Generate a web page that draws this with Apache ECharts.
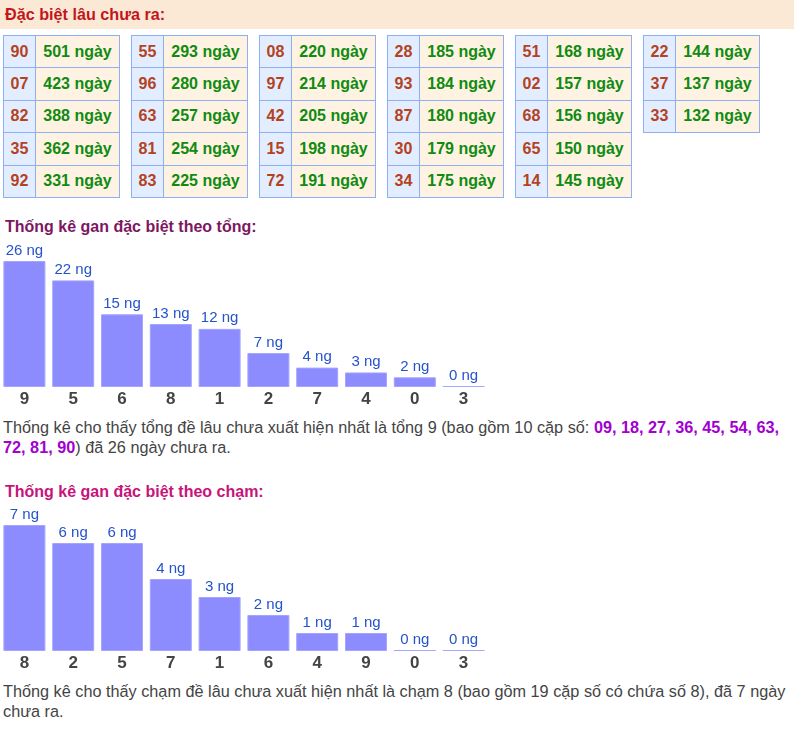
<!DOCTYPE html>
<html><head><meta charset="utf-8">
<script src="https://cdn.jsdelivr.net/npm/echarts@6/dist/echarts.min.js"></script>
<style>
body{margin:0;width:794px;height:729px;background:#fff;font-family:"Liberation Sans",Arial,sans-serif;position:relative;overflow:hidden}
.hdr{position:absolute;left:0;top:0;width:794px;height:29px;background:#fbe9d6;}
.hdr span{position:absolute;left:5px;top:5px;font-weight:bold;font-size:16.2px;color:#c3161c}
table.t{position:absolute;top:35px;border-collapse:collapse;font-weight:bold;font-size:16px}
table.t td{border:1px solid #8eb0f2;height:31.4px;padding:0;text-align:center}
td.n{width:31px;background:#e2eeff;color:#b3421d}
td.d{width:83px;background:#fef3e2;color:#108a10}
.ttl{position:absolute;left:5px;font-weight:bold;font-size:16px}
.chart{position:absolute;left:0;width:500px;height:175px}
.para{position:absolute;left:3px;font-size:16.25px;line-height:19.5px;color:#444;white-space:nowrap}
.para b{color:#a200d0}
</style></head>
<body>
<div class="hdr"><span id="hdrText"></span></div>
<div id="tables"></div>
<div class="ttl" id="title1" style="top:218px;color:#7c1862"></div>
<div class="chart" id="c1" style="top:235px"></div>
<div class="para" id="p1" style="top:418px"></div>
<div class="ttl" id="title2" style="top:483px;color:#c8137a"></div>
<div class="chart" id="c2" style="top:499px"></div>
<div class="para" id="p2" style="top:682px"></div>
<script>
const headerText = "Đặc biệt lâu chưa ra:";
const pairNums = ["90","07","82","35","92","55","96","63","81","83","08","97","42","15","72","28","93","87","30","34","51","02","68","65","14","22","37","33"];
const pairDays = [501,423,388,362,331,293,280,257,254,225,220,214,205,198,191,185,184,180,179,175,168,157,156,150,145,144,137,132];
const rowsPerTable = 5;

const title1 = "Thống kê gan đặc biệt theo tổng:";
const tongCats = ["9","5","6","8","1","2","7","4","0","3"];
const tongVals = [26,22,15,13,12,7,4,3,2,0];
const para1a = "Thống kê cho thấy tổng đề lâu chưa xuất hiện nhất là tổng 9 (bao gồm 10 cặp số: ";
const para1Nums1 = "09, 18, 27, 36, 45, 54, 63,";
const para1Nums2 = "72, 81, 90";
const para1b = ") đã 26 ngày chưa ra.";

const title2 = "Thống kê gan đặc biệt theo chạm:";
const chamCats = ["8","2","5","7","1","6","4","9","0","3"];
const chamVals = [7,6,6,4,3,2,1,1,0,0];
const para2a = "Thống kê cho thấy chạm đề lâu chưa xuất hiện nhất là chạm 8 (bao gồm 19 cặp số có chứa số 8), đã 7 ngày";
const para2b = "chưa ra.";

document.getElementById('hdrText').textContent = headerText;
document.getElementById('title1').textContent = title1;
document.getElementById('title2').textContent = title2;
document.getElementById('p1').innerHTML = para1a + '<b>' + para1Nums1 + '</b><br><b>' + para1Nums2 + '</b>' + para1b;
document.getElementById('p2').innerHTML = para2a + '<br>' + para2b;

let html = '';
const nTables = Math.ceil(pairNums.length / rowsPerTable);
for (let t = 0; t < nTables; t++) {
  html += '<table class="t" style="left:' + (3 + t * 128) + 'px">';
  for (let r = 0; r < rowsPerTable; r++) {
    const i = t * rowsPerTable + r;
    if (i >= pairNums.length) break;
    html += '<tr><td class="n">' + pairNums[i] + '</td><td class="d">' + pairDays[i] + ' ngày</td></tr>';
  }
  html += '</table>';
}
document.getElementById('tables').innerHTML = html;

function makeChart(id, cats, vals) {
  const ch = echarts.init(document.getElementById(id), null, {renderer: 'canvas'});
  const maxV = Math.max.apply(null, vals);
  ch.setOption({
    animation: false,
    grid: {left: 0, width: 488, top: 26, bottom: 23},
    xAxis: {
      type: 'category', data: cats,
      axisLine: {show: false}, axisTick: {show: false},
      axisLabel: {margin: 4, fontSize: 17, fontWeight: 'bold', color: '#444', fontFamily: 'Liberation Sans'}
    },
    yAxis: {type: 'value', min: 0, max: maxV, show: false, splitLine: {show: false}},
    series: [{
      type: 'bar', barWidth: 42, barMinHeight: 1,
      data: vals.map(v => ({value: v, itemStyle: {color: v === 0 ? '#a6a6ff' : '#8c8cff', borderColor: '#a4a4ff', borderWidth: v === 0 ? 0 : 1}})),
      label: {show: true, position: 'top', distance: 3, formatter: p => p.value + ' ng', color: '#2553cc', fontSize: 15, fontFamily: 'Liberation Sans'}
    }]
  });
}
makeChart('c1', tongCats, tongVals);
makeChart('c2', chamCats, chamVals);
</script>
</body></html>
